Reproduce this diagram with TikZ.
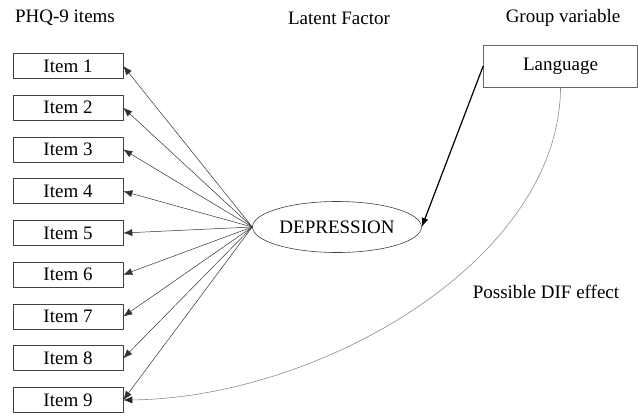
\documentclass[tikz,border=0pt]{standalone}
\usepackage{fontspec}
\setmainfont{Liberation Serif}
\usetikzlibrary{arrows.meta,shapes.geometric}
\begin{document}
\begin{tikzpicture}[>={Latex[length=9bp,width=7bp]},line join=bevel,x=1bp,y=-1bp,
  every node/.style={font=\fontsize{19bp}{22bp}\selectfont,inner sep=0pt},
  itembox/.style={draw=black!75,line width=0.6bp,minimum width=110bp,minimum height=25bp},
  groupbox/.style={draw=black!60,line width=0.6bp,minimum width=154bp,minimum height=42bp},
  latent/.style={ellipse,draw=black!75,line width=0.6bp,minimum width=169bp,minimum height=51bp},
  loading/.style={black!80,line width=0.5bp,->},
]
%%
\useasboundingbox (0,0) rectangle (638,415);
\node (phq) at (65,18) {PHQ-9 items};
  \node (latentfactor) at (339,18) {Latent Factor};
  \node (groupvariable) at (563,18) {Group variable};
  \node (dif) at (546,292) {Possible DIF effect};
  \node (item1) at (68,66) [itembox] {Item 1};
  \node (item2) at (68,107.75) [itembox] {Item 2};
  \node (item3) at (68,149.5) [itembox] {Item 3};
  \node (item4) at (68,191.25) [itembox] {Item 4};
  \node (item5) at (68,233) [itembox] {Item 5};
  \node (item6) at (68,274.75) [itembox] {Item 6};
  \node (item7) at (68,316.5) [itembox] {Item 7};
  \node (item8) at (68,358.25) [itembox] {Item 8};
  \node (item9) at (68,400) [itembox] {Item 9};
  \node (depression) at (337,227) [latent] {DEPRESSION};
  \node (language) at (560.5,66) [groupbox] {Language};
  \draw [loading] (depression.west) -- (item1.east);
  \draw [loading] (depression.west) -- (item2.east);
  \draw [loading] (depression.west) -- (item3.east);
  \draw [loading] (depression.west) -- (item4.east);
  \draw [loading] (depression.west) -- (item5.east);
  \draw [loading] (depression.west) -- (item6.east);
  \draw [loading] (depression.west) -- (item7.east);
  \draw [loading] (depression.west) -- (item8.east);
  \draw [loading] (depression.west) -- (item9.east);
  \draw [black,line width=1.2bp,->] (language.west) -- (depression.east);
  \draw [black!45,line width=0.6bp,-{Latex[length=9bp,width=7bp,color=black!85]}] (language.south) ..controls (560,260) and (320,398) .. (item9.east);
%
\end{tikzpicture}
\end{document}
